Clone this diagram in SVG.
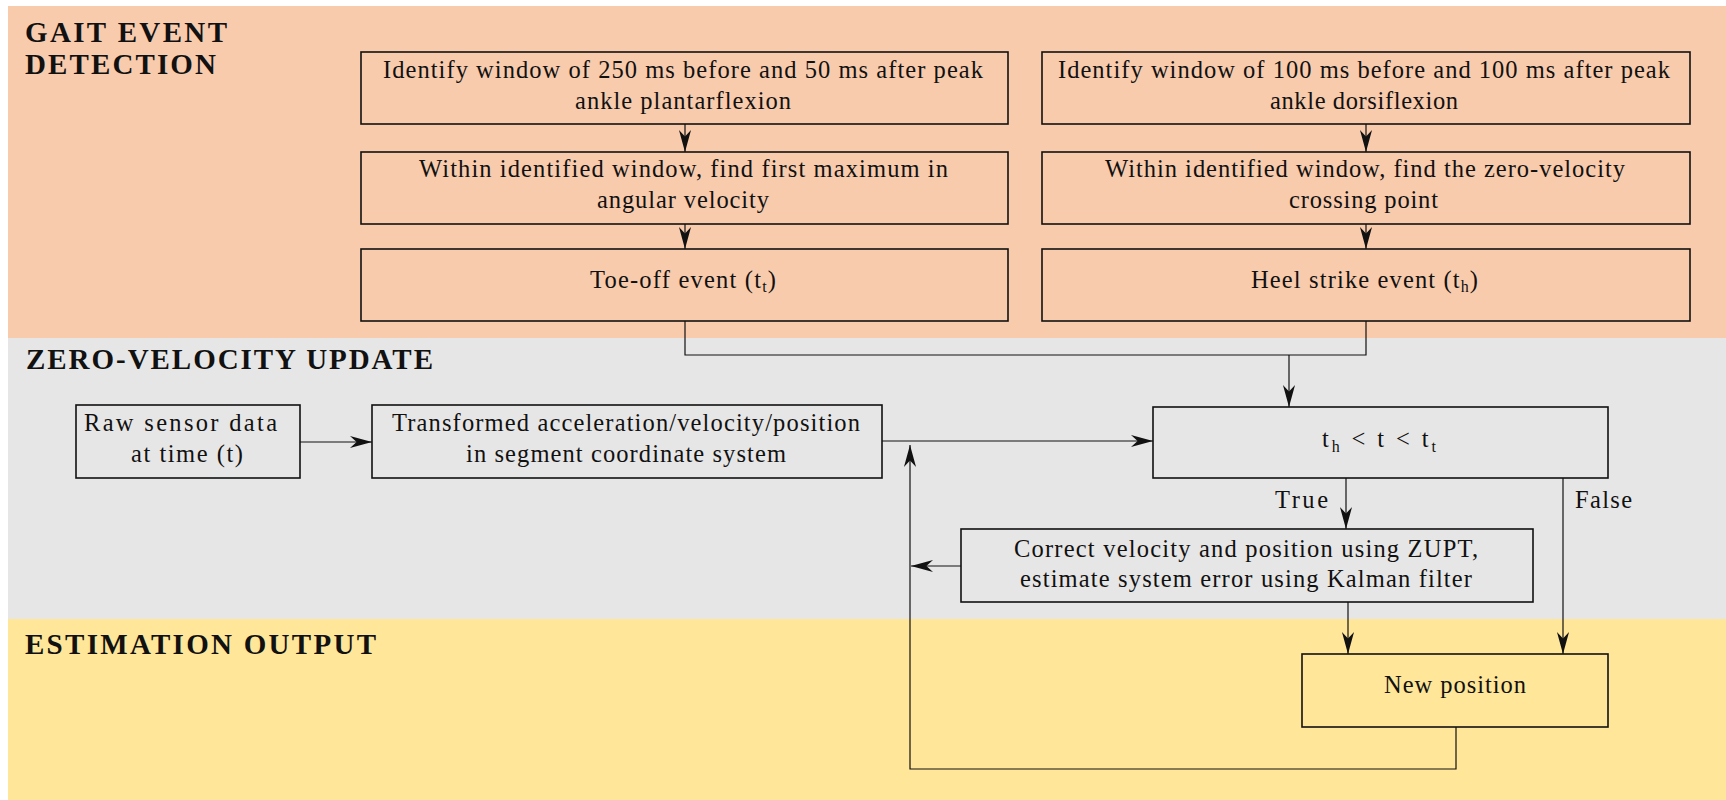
<svg xmlns="http://www.w3.org/2000/svg" width="1726" height="800" viewBox="0 0 1726 800">
<style>
.band-title{font-family:"Liberation Serif","Times New Roman",serif;font-weight:bold;font-size:29px;fill:#111}
.t{font-family:"Liberation Serif","Times New Roman",serif;font-size:24.5px;fill:#111}
.box{fill:none;stroke:#111;stroke-width:1.6}
.con{fill:none;stroke:#111;stroke-width:1.2}
.sub{font-size:16px}
</style>
<defs>
<marker id="arr" markerUnits="userSpaceOnUse" markerWidth="22" markerHeight="14" viewBox="0 0 20 12" refX="20" refY="6" orient="auto">
<path d="M20,6 L0,0.5 L6,6 L0,11.5 Z" fill="#111"/>
</marker>
</defs>
<!-- bands -->
<rect x="8" y="6" width="1718" height="332" fill="#F8CBAD"/>
<rect x="8" y="338" width="1718" height="281" fill="#E7E6E6"/>
<rect x="8" y="619" width="1718" height="181" fill="#FFE699"/>
<text class="band-title" x="25" y="42" textLength="202" lengthAdjust="spacing">GAIT EVENT</text>
<text class="band-title" x="25" y="74" textLength="191" lengthAdjust="spacing">DETECTION</text>
<text class="band-title" x="26" y="369" textLength="407" lengthAdjust="spacing">ZERO-VELOCITY UPDATE</text>
<text class="band-title" x="25" y="654" textLength="351" lengthAdjust="spacing">ESTIMATION OUTPUT</text>

<g id="connectors">
<line class="con" x1="685" y1="124" x2="685" y2="152" marker-end="url(#arr)"/>
<line class="con" x1="685" y1="224" x2="685" y2="249" marker-end="url(#arr)"/>
<line class="con" x1="1366" y1="124" x2="1366" y2="152" marker-end="url(#arr)"/>
<line class="con" x1="1366" y1="224" x2="1366" y2="249" marker-end="url(#arr)"/>
<polyline class="con" points="685,321 685,355 1366,355 1366,321"/>
<line class="con" x1="1289" y1="355" x2="1289" y2="407" marker-end="url(#arr)"/>
<line class="con" x1="300" y1="442" x2="372" y2="442" marker-end="url(#arr)"/>
<line class="con" x1="882" y1="441" x2="1153" y2="441" marker-end="url(#arr)"/>
<line class="con" x1="1346" y1="478" x2="1346" y2="529" marker-end="url(#arr)"/>
<line class="con" x1="961" y1="566" x2="911" y2="566" marker-end="url(#arr)"/>
<line class="con" x1="1563" y1="478" x2="1563" y2="654" marker-end="url(#arr)"/>
<line class="con" x1="1348" y1="602" x2="1348" y2="654" marker-end="url(#arr)"/>
<polyline class="con" points="1456,727 1456,769 910,769 910,445" marker-end="url(#arr)"/>
<text class="t" x="1275" y="508" textLength="53" lengthAdjust="spacing">True</text>
<text class="t" x="1575" y="508" textLength="57" lengthAdjust="spacing">False</text>
</g>

<g id="node-plantar">
<rect class="box" x="361" y="52" width="647" height="72"/>
<text class="t" x="383" y="78" textLength="600" lengthAdjust="spacing">Identify window of 250 ms before and 50 ms after peak</text>
<text class="t" x="575" y="109" textLength="216" lengthAdjust="spacing">ankle plantarflexion</text>
</g>
<g id="node-maxvel">
<rect class="box" x="361" y="152" width="647" height="72"/>
<text class="t" x="419" y="177" textLength="529" lengthAdjust="spacing">Within identified window, find first maximum in</text>
<text class="t" x="597" y="208" textLength="172" lengthAdjust="spacing">angular velocity</text>
</g>
<g id="node-toeoff">
<rect class="box" x="361" y="249" width="647" height="72"/>
<text class="t" x="590" y="288" textLength="186" lengthAdjust="spacing">Toe-off event (t<tspan class="sub" dy="4">t</tspan><tspan dy="-4">)</tspan></text>
</g>
<g id="node-dorsi">
<rect class="box" x="1042" y="52" width="648" height="72"/>
<text class="t" x="1058" y="78" textLength="612" lengthAdjust="spacing">Identify window of 100 ms before and 100 ms after peak</text>
<text class="t" x="1270" y="109" textLength="188" lengthAdjust="spacing">ankle dorsiflexion</text>
</g>
<g id="node-zerocross">
<rect class="box" x="1042" y="152" width="648" height="72"/>
<text class="t" x="1105" y="177" textLength="520" lengthAdjust="spacing">Within identified window, find the zero-velocity</text>
<text class="t" x="1289" y="208" textLength="149" lengthAdjust="spacing">crossing point</text>
</g>
<g id="node-heel">
<rect class="box" x="1042" y="249" width="648" height="72"/>
<text class="t" x="1251" y="288" textLength="227" lengthAdjust="spacing">Heel strike event (t<tspan class="sub" dy="4">h</tspan><tspan dy="-4">)</tspan></text>
</g>
<g id="node-raw">
<rect class="box" x="76" y="405" width="224" height="73"/>
<text class="t" x="84" y="431" textLength="193" lengthAdjust="spacing">Raw sensor data</text>
<text class="t" x="131" y="462" textLength="112" lengthAdjust="spacing">at time (t)</text>
</g>
<g id="node-transformed">
<rect class="box" x="372" y="405" width="510" height="73"/>
<text class="t" x="392" y="431" textLength="468" lengthAdjust="spacing">Transformed acceleration/velocity/position</text>
<text class="t" x="466" y="462" textLength="320" lengthAdjust="spacing">in segment coordinate system</text>
</g>
<g id="node-condition">
<rect class="box" x="1153" y="407" width="455" height="71"/>
<text class="t" x="1322" y="447" textLength="114" lengthAdjust="spacing">t<tspan class="sub" dy="5">h</tspan><tspan dy="-5"> &lt; t &lt; t</tspan><tspan class="sub" dy="5">t</tspan></text>
</g>
<g id="node-correct">
<rect class="box" x="961" y="529" width="572" height="73"/>
<text class="t" x="1014" y="557" textLength="464" lengthAdjust="spacing">Correct velocity and position using ZUPT,</text>
<text class="t" x="1020" y="587" textLength="452" lengthAdjust="spacing">estimate system error using Kalman filter</text>
</g>
<g id="node-newpos">
<rect class="box" x="1302" y="654" width="306" height="73"/>
<text class="t" x="1384" y="693" textLength="142" lengthAdjust="spacing">New position</text>
</g>
</svg>
